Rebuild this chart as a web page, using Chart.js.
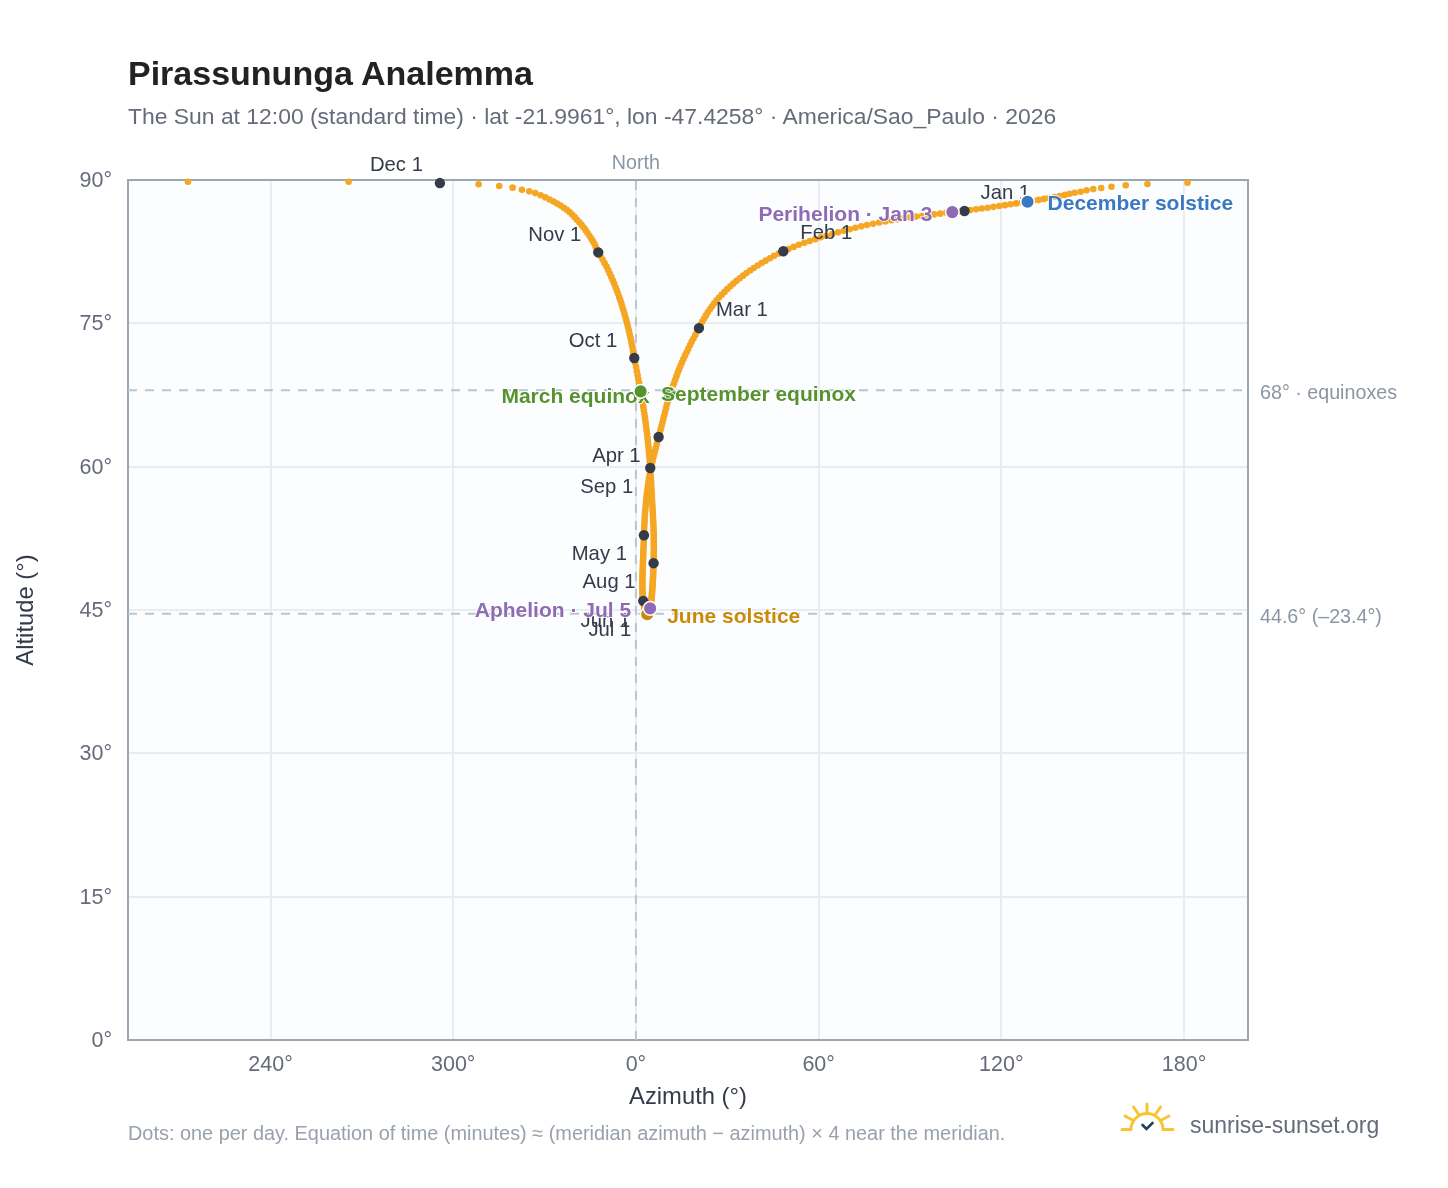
<!DOCTYPE html>
<html>
<head>
<meta charset="utf-8">
<title>Pirassununga Analemma</title>
<script src="https://cdn.jsdelivr.net/npm/chart.js@4"></script>
<style>
    html, body { margin: 0; padding: 0; background: #fff; font-family: "Liberation Sans", Arial, sans-serif; }
    #wrap { position: relative; width: 1448px; height: 1188px; overflow: hidden; }
    #wrap div, #wrap svg { position: absolute; white-space: nowrap; }
    #title { left: 128px; top: 53px; font-size: 34px; line-height: 40px; font-weight: bold; color: #222; }
    #subtitle { left: 128px; top: 103px; font-size: 22.9px; line-height: 26px; color: #666b7a; }
    #note { left: 128px; top: 1122px; font-size: 19.9px; line-height: 22px; color: #98a1ac; }
    #brand { left: 1190px; top: 1111px; font-size: 23px; line-height: 28px; color: #666b7a; }
    #logo { left: 1118px; top: 1100px; }
</style>
</head>
<body>
<div id="wrap">
    <canvas id="analemma" width="1448" height="1188"></canvas>
    <div id="title">Pirassununga Analemma</div>
    <div id="subtitle">The Sun at 12:00 (standard time) · lat -21.9961°, lon -47.4258° · America/Sao_Paulo · 2026</div>
    <div id="note">Dots: one per day. Equation of time (minutes) ≈ (meridian azimuth − azimuth) × 4 near the meridian.</div>
    <svg id="logo" width="60" height="36" viewBox="0 0 60 36" fill="none">
        <g stroke="#f7c52f" stroke-width="3" stroke-linecap="round">
            <path d="M13 29.5 A16 16 0 0 1 45 29.5"/>
            <path d="M4 29.5H12M46 29.5H55M29 4V11M15.500 7L20 13.500M42.500 7L38 13.500M7 16L14.500 20M51 16L43.500 20"/>
        </g>
        <path d="M24.500 25L28.500 29L34.500 23" stroke="#24405e" stroke-width="2.600" stroke-linecap="round"/>
    </svg>
    <div id="brand">sunrise-sunset.org</div>
</div>
<script>
// daily sun position, one list per month
const azJan = [107.9,105.9,103.9,101.9,99.9,97.9,95.9,93.9,91.9,89.9,87.9,85.9,83.9,81.9,79.9,77.9,75.9,74.0,72.1,70.2,68.3,66.4,64.5,62.6,60.7,58.9,57.1,55.3,53.5,51.8,50.1];
const altJan = [86.76,86.70,86.64,86.56,86.48,86.40,86.32,86.24,86.17,86.10,86.00,85.90,85.79,85.67,85.55,85.42,85.29,85.15,85.00,84.85,84.69,84.52,84.35,84.17,84.00,83.81,83.62,83.43,83.22,83.00,82.78];
const azFeb = [48.4,46.9,45.4,44.0,42.6,41.3,40.0,38.7,37.5,36.3,35.2,34.1,33.0,32.0,31.0,30.0,29.1,28.2,27.3,26.5,25.7,25.0,24.3,23.6,23.0,22.4,21.8,21.2];
const altFeb = [82.54,82.30,82.06,81.81,81.56,81.31,81.05,80.79,80.53,80.26,79.99,79.72,79.44,79.16,78.87,78.58,78.29,78.00,77.70,77.40,77.09,76.78,76.47,76.15,75.83,75.51,75.18,74.85];
const azMar = [20.7,20.1,19.5,18.9,18.3,17.75,17.2,16.65,16.1,15.6,15.1,14.6,14.15,13.7,13.3,12.9,12.5,12.1,11.65,11.2,10.9,10.55,10.2,9.9,9.6,9.3,9.0,8.7,8.4,8.1,7.8];
const altMar = [74.50,74.14,73.78,73.42,73.06,72.70,72.34,71.98,71.62,71.26,70.90,70.54,70.18,69.82,69.46,69.10,68.74,68.38,68.02,67.66,67.28,66.90,66.52,66.14,65.76,65.38,65.00,64.62,64.24,63.86,63.48];
const azApr = [7.45,7.15,6.85,6.55,6.25,5.95,5.65,5.4,5.15,4.9,4.7,4.5,4.3,4.15,4.0,3.85,3.7,3.55,3.45,3.35,3.25,3.15,3.05,2.95,2.9,2.85,2.8,2.75,2.7,2.65];
const altApr = [63.10,62.73,62.36,61.99,61.62,61.26,60.90,60.54,60.18,59.83,59.48,59.13,58.78,58.44,58.10,57.76,57.42,57.09,56.76,56.43,56.08,55.74,55.41,55.08,54.75,54.43,54.11,53.79,53.47,53.14];
const azMay = [2.63,2.6,2.57,2.54,2.51,2.48,2.45,2.42,2.39,2.36,2.33,2.3,2.27,2.24,2.21,2.19,2.17,2.15,2.13,2.12,2.11,2.1,2.1,2.11,2.13,2.15,2.18,2.21,2.25,2.29,2.34];
const altMay = [52.82,52.53,52.24,51.96,51.68,51.41,51.14,50.87,50.61,50.35,50.10,49.85,49.61,49.37,49.13,48.90,48.68,48.46,48.25,48.04,47.84,47.64,47.45,47.27,47.09,46.92,46.75,46.59,46.43,46.28,46.14];
const azJun = [2.4,2.46,2.52,2.58,2.64,2.7,2.76,2.82,2.89,2.96,3.03,3.1,3.17,3.24,3.31,3.38,3.45,3.52,3.58,3.64,3.7,3.77,3.84,3.91,3.98,4.05,4.12,4.19,4.26,4.32];
const altJun = [45.95,45.83,45.72,45.61,45.50,45.40,45.30,45.21,45.13,45.06,44.99,44.93,44.87,44.81,44.76,44.71,44.66,44.62,44.59,44.57,44.55,44.55,44.56,44.57,44.59,44.62,44.66,44.70,44.76,44.82];
const azJul = [4.38,4.45,4.52,4.59,4.66,4.72,4.78,4.84,4.9,4.96,5.01,5.06,5.11,5.16,5.21,5.25,5.29,5.33,5.37,5.41,5.45,5.49,5.53,5.57,5.6,5.63,5.66,5.69,5.72,5.75,5.78];
const altJul = [44.88,44.95,45.02,45.09,45.17,45.26,45.36,45.47,45.59,45.72,45.86,46.00,46.15,46.31,46.47,46.64,46.81,46.99,47.17,47.36,47.55,47.75,47.95,48.15,48.36,48.57,48.79,49.01,49.23,49.45,49.68];
const azAug = [5.8,5.82,5.84,5.86,5.87,5.88,5.88,5.88,5.87,5.86,5.84,5.82,5.79,5.76,5.72,5.68,5.63,5.58,5.52,5.46,5.4,5.34,5.28,5.22,5.16,5.1,5.04,4.98,4.91,4.84,4.77];
const altAug = [49.90,50.18,50.46,50.74,51.02,51.31,51.60,51.89,52.18,52.48,52.78,53.08,53.38,53.70,54.02,54.34,54.66,54.99,55.32,55.65,55.98,56.32,56.66,57.00,57.34,57.68,58.03,58.38,58.73,59.10,59.48];
const azSep = [4.7,4.62,4.54,4.45,4.35,4.25,4.14,4.03,3.92,3.8,3.66,3.52,3.38,3.23,3.08,2.92,2.76,2.59,2.42,2.24,2.06,1.8,1.54,1.3,1.05,0.8,0.55,0.3,0.05,-0.25];
const altSep = [59.86,60.20,60.55,60.90,61.25,61.60,61.96,62.32,62.68,63.04,63.40,63.76,64.12,64.48,64.84,65.20,65.56,65.92,66.28,66.64,67.05,67.46,67.88,68.30,68.72,69.14,69.56,69.98,70.42,70.88];
const azOct = [-0.55,-0.75,-0.95,-1.15,-1.35,-1.58,-1.82,-2.07,-2.33,-2.6,-2.88,-3.17,-3.47,-3.78,-4.1,-4.43,-4.77,-5.12,-5.5,-5.89,-6.3,-6.72,-7.16,-7.62,-8.1,-8.6,-9.12,-9.66,-10.3,-10.95,-11.65];
const altOct = [71.37,71.73,72.09,72.45,72.81,73.17,73.53,73.89,74.25,74.61,74.96,75.31,75.66,76.01,76.36,76.71,77.06,77.41,77.76,78.11,78.46,78.81,79.16,79.51,79.86,80.22,80.58,80.94,81.30,81.67,82.05];
const azNov = [-12.38,-12.81,-13.23,-13.6,-14.12,-14.68,-15.27,-15.9,-16.52,-17.18,-17.87,-18.59,-19.34,-20.13,-20.95,-21.81,-22.73,-23.71,-24.76,-25.88,-27.06,-28.34,-29.75,-31.3,-33.07,-35.04,-37.44,-40.49,-44.89,-51.66];
const altNov = [82.43,82.72,83.01,83.30,83.59,83.88,84.17,84.46,84.75,85.03,85.30,85.57,85.84,86.11,86.38,86.65,86.88,87.10,87.32,87.54,87.75,87.96,88.18,88.40,88.63,88.81,88.98,89.20,89.37,89.55];
const azDec = [-64.37,-94.35,-147.13,181.15,167.98,160.85,156.16,152.8,150.2,147.98,146.04,144.1,142.43,140.85,139.2,137.5,135.7,134.0,132.25,130.45,128.6,126.75,124.9,123.05,121.2,119.3,117.4,115.5,113.6,111.7,109.8];
const altDec = [89.68,89.82,89.82,89.72,89.58,89.44,89.30,89.16,89.05,88.92,88.77,88.67,88.56,88.44,88.33,88.22,88.12,88.02,87.92,87.82,87.73,87.64,87.55,87.46,87.37,87.28,87.19,87.10,87.02,86.94,86.85];

const monthNames = ['Jan', 'Feb', 'Mar', 'Apr', 'May', 'Jun', 'Jul', 'Aug', 'Sep', 'Oct', 'Nov', 'Dec'];
const monthAz = [azJan, azFeb, azMar, azApr, azMay, azJun, azJul, azAug, azSep, azOct, azNov, azDec];
const monthAlt = [altJan, altFeb, altMar, altApr, altMay, altJun, altJul, altAug, altSep, altOct, altNov, altDec];

// azimuth runs through north, so 240° and 300° sit left of 0°
const azTicks = [-120, -60, 0, 60, 120, 180];
const altTicks = [0, 15, 30, 45, 60, 75, 90];
const equinoxAlt = 68;
const solsticeAlt = 44.6;

// label: which month list + day, text, colour
const events = [
    { label: 'March equinox', az: azSep[22], alt: altSep[22], color: '#56922f' },
    { label: 'September equinox', az: azMar[19], alt: altMar[19], color: '#56922f' },
    { label: 'June solstice', az: azJun[20], alt: altJun[20], color: '#c98a0a' },
    { label: 'December solstice', az: azDec[20], alt: altDec[20], color: '#3a78c2' },
    { label: 'Perihelion · Jan 3', az: azJan[2], alt: altJan[2], color: '#8e6bb5' },
    { label: 'Aphelion · Jul 5', az: azJul[4], alt: altJul[4], color: '#8e6bb5' }
];

// text offsets from each dot, in pixels
const monthOffsets = {
    Jan: [16, -18, 'left'], Feb: [17, -18, 'left'], Mar: [17, -18, 'left'],
    Apr: [-18, 19, 'right'], May: [-17, 19, 'right'], Jun: [-13, 20, 'right'],
    Jul: [-18, 19, 'right'], Aug: [-18, 19, 'right'], Sep: [-17, 19, 'right'],
    Oct: [-17, -17, 'right'], Nov: [-17, -17, 'right'], Dec: [-17, -18, 'right']
};
const eventOffsets = {
    'March equinox': [9, 6, 'right'],
    'September equinox': [-9, 2, 'left'],
    'June solstice': [20, 3, 'left'],
    'December solstice': [20, 3, 'left'],
    'Perihelion · Jan 3': [-20, 3, 'right'],
    'Aphelion · Jul 5': [-19, 3, 'right']
};

function zip(xs, ys) {
    return xs.map(function (x, i) { return { x: x, y: ys[i] }; });
}

const dailyPoints = zip(monthAz.flat(), monthAlt.flat());
const monthPoints = zip(monthAz.map(function (m) { return m[0]; }), monthAlt.map(function (m) { return m[0]; }));
const MONTH_DATASET = 4;

function drawEventLabel(chart, e) {
    const ctx = chart.ctx, o = eventOffsets[e.label];
    const px = chart.scales.x.getPixelForValue(e.az) + o[0], py = chart.scales.y.getPixelForValue(e.alt) + o[1];
    ctx.save();
    ctx.textBaseline = 'middle';
    ctx.font = 'bold 21px "Liberation Sans", Arial, sans-serif';
    ctx.lineWidth = 2;
    ctx.strokeStyle = 'rgba(255,255,255,0.85)';
    ctx.textAlign = o[2];
    ctx.strokeText(e.label, px, py);
    ctx.fillStyle = e.color;
    ctx.fillText(e.label, px, py);
    ctx.restore();
}

const plotDecor = {
    id: 'plotDecor',
    beforeDraw(chart) {
        const a = chart.chartArea;
        chart.ctx.fillStyle = '#fbfdff';
        chart.ctx.fillRect(a.left, a.top, a.width, a.height);
    },
    beforeDatasetsDraw(chart) {
        const a = chart.chartArea, ctx = chart.ctx;
        ctx.save();
        ctx.strokeStyle = '#9aa7b5';
        ctx.lineWidth = 2;
        ctx.strokeRect(a.left, a.top, a.width, a.height);
        ctx.restore();
    },
    // labels go over the daily dots but under the event dots
    afterDatasetDraw(chart, args) {
        if (args.index !== MONTH_DATASET) return;
        const ctx = chart.ctx, sx = chart.scales.x, sy = chart.scales.y;
        ctx.save();
        ctx.textBaseline = 'middle';

        ctx.font = '20.3px "Liberation Sans", Arial, sans-serif';
        ctx.fillStyle = '#343c4a';
        monthNames.forEach(function (name, i) {
            const o = monthOffsets[name];
            ctx.textAlign = o[2];
            ctx.fillText(name + ' 1', sx.getPixelForValue(monthPoints[i].x) + o[0], sy.getPixelForValue(monthPoints[i].y) + o[1]);
        });

        events.forEach(function (e) {
            if (e.label !== 'September equinox') drawEventLabel(chart, e);
        });

        // reference line notes
        ctx.font = '19.7px "Liberation Sans", Arial, sans-serif';
        ctx.fillStyle = '#8a96a3';
        ctx.textAlign = 'left';
        ctx.fillText('68° · equinoxes', sx.right + 12, sy.getPixelForValue(equinoxAlt) + 3);
        ctx.fillText('44.6° (–23.4°)', sx.right + 12, sy.getPixelForValue(solsticeAlt) + 3.5);
        ctx.textAlign = 'center';
        ctx.fillText('North', sx.getPixelForValue(0), sy.top - 16);
        ctx.restore();
    },
    // this one sits on top of its own dot
    afterDatasetsDraw(chart) {
        drawEventLabel(chart, events[1]);
    }
};

const refLine = {
    type: 'scatter',
    showLine: true,
    borderColor: '#b8c6d0',
    borderWidth: 2,
    borderDash: [9, 8],
    pointRadius: 0,
    clip: false,
    order: 10
};

new Chart(document.getElementById('analemma'), {
    type: 'scatter',
    data: {
        datasets: [
            Object.assign({}, refLine, { data: [{ x: -166.8, y: equinoxAlt }, { x: 201, y: equinoxAlt }] }),
            Object.assign({}, refLine, { data: [{ x: -166.8, y: solsticeAlt }, { x: 201, y: solsticeAlt }] }),
            Object.assign({}, refLine, { data: [{ x: 0, y: 0 }, { x: 0, y: 90 }] }),
            {
                data: dailyPoints,
                backgroundColor: '#f5a623',
                borderWidth: 0,
                pointRadius: 3.3,
                clip: false,
                order: 5
            },
            {
                data: monthPoints,
                backgroundColor: '#343c4a',
                borderColor: '#ffffff',
                borderWidth: 0,
                pointRadius: 5.2,
                clip: false,
                order: 4
            },
            {
                data: events.slice(0, 5).map(function (e) { return { x: e.az, y: e.alt }; }),
                backgroundColor: events.slice(0, 5).map(function (e) { return e.color; }),
                borderColor: '#ffffff',
                borderWidth: 1.5,
                pointRadius: 6.8,
                clip: false,
                order: 3
            },
            {
                data: [{ x: events[5].az, y: events[5].alt }],
                backgroundColor: events[5].color,
                borderColor: '#ffffff',
                borderWidth: 1.5,
                pointRadius: 6.8,
                clip: false,
                order: 2
            }
        ]
    },
    options: {
        responsive: false,
        animation: false,
        events: [],
        layout: { padding: { left: 0, top: 180, right: 200, bottom: 68 } },
        plugins: { legend: { display: false }, tooltip: { enabled: false }, title: { display: false } },
        scales: {
            x: {
                type: 'linear',
                min: -166.8,
                max: 201,
                afterBuildTicks(scale) { scale.ticks = azTicks.map(function (v) { return { value: v }; }); },
                afterFit(scale) { scale.height = 80; },
                grid: { color: '#e8edf3', lineWidth: 2, drawTicks: false },
                border: { display: false },
                ticks: {
                    color: '#666b7a',
                    font: { family: '"Liberation Sans", Arial, sans-serif', size: 21.5 },
                    padding: 12,
                    maxRotation: 0,
                    autoSkip: false,
                    callback: function (v) { return (v < 0 ? v + 360 : v) + '°'; }
                },
                title: {
                    display: true,
                    text: 'Azimuth (°)',
                    color: '#343c4a',
                    font: { family: '"Liberation Sans", Arial, sans-serif', size: 23.8 },
                    padding: { top: 0, bottom: 8 }
                }
            },
            y: {
                min: 0,
                max: 90,
                afterBuildTicks(scale) { scale.ticks = altTicks.map(function (v) { return { value: v }; }); },
                afterFit(scale) { scale.width = 128; },
                grid: { color: '#e8edf3', lineWidth: 2, drawTicks: false },
                border: { display: false },
                ticks: {
                    color: '#666b7a',
                    font: { family: '"Liberation Sans", Arial, sans-serif', size: 21.5 },
                    padding: 16,
                    labelOffset: 1,
                    autoSkip: false,
                    callback: function (v) { return v + '°'; }
                },
                title: {
                    display: true,
                    text: 'Altitude (°)',
                    color: '#343c4a',
                    font: { family: '"Liberation Sans", Arial, sans-serif', size: 23.8 },
                    padding: { top: 12, bottom: 0 }
                }
            }
        }
    },
    plugins: [plotDecor]
});
</script>
</body>
</html>
